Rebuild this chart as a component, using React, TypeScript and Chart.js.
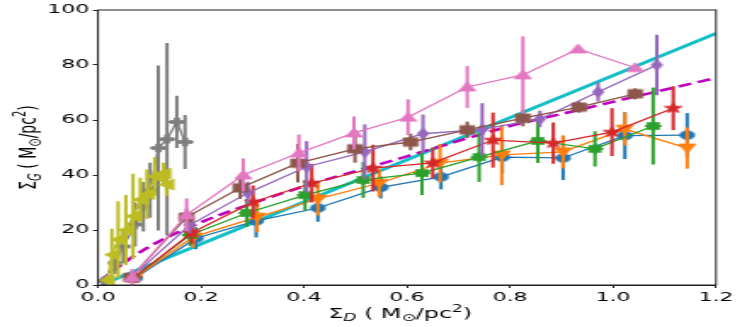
import React, { useEffect, useRef } from "react";
import { Chart, registerables } from "chart.js";
Chart.register(...registerables);

// canvas is drawn narrow and stretched horizontally (like the reference)
const W = 439;
const H = 327;
const SX = 747 / W;

// ---- tick labels ----
const xTicks = [0, 0.2, 0.4, 0.6, 0.8, 1.0, 1.2];
const yTicks = [0, 20, 40, 60, 80, 100];

// ---- series (Σ_D, Σ_G, error) ----
const blueX = [0.072, 0.19, 0.307, 0.427, 0.549, 0.666, 0.785, 0.903, 1.023, 1.144];
const blueY = [2.5, 17, 23.3, 28, 35.5, 39.3, 46.5, 46.2, 54.3, 54.5];
const blueErr = [1.5, 4, 6, 5, 4, 4.5, 6, 8, 8.5, 8];

const orangeX = [0.07, 0.185, 0.309, 0.427, 0.546, 0.664, 0.784, 0.903, 1.023, 1.144];
const orangeY = [2.5, 17.5, 24.7, 31.3, 37, 44.3, 47.3, 48.4, 56.7, 49.8];
const orangeErr = [1.5, 4, 5.5, 6, 5, 7, 11, 6, 6, 7.5];

const greenX = [0.068, 0.179, 0.289, 0.402, 0.515, 0.629, 0.74, 0.854, 0.965, 1.078];
const greenY = [2.5, 18.2, 26.2, 32.7, 38.2, 40.7, 46.5, 52.4, 49.5, 57.8];
const greenErr = [1.5, 4, 5, 5.5, 6.5, 8, 9, 8, 6.4, 14];

const redX = [0.068, 0.182, 0.301, 0.415, 0.534, 0.65, 0.767, 0.884, 0.998, 1.117];
const redY = [2.5, 19, 30.2, 37, 42.5, 44.4, 52.7, 51.6, 55.6, 64.3];
const redErr = [1.5, 4, 6, 7, 8.5, 5.6, 10, 7.5, 8.7, 8];

const purpleX = [0.066, 0.178, 0.291, 0.405, 0.518, 0.631, 0.746, 0.858, 0.971, 1.085];
const purpleY = [3, 21.8, 33.5, 43, 48.4, 55, 56.6, 60.4, 70.2, 80];
const purpleErr = [2, 3, 4, 9.3, 10, 7, 9.5, 3, 3.5, 11];

const brownX = [0.064, 0.172, 0.276, 0.388, 0.499, 0.607, 0.717, 0.825, 0.934, 1.043];
const brownY = [2.8, 24.7, 35.3, 44.3, 49.5, 52, 56.4, 60.7, 64.7, 69.5];
const brownErr = [1.5, 3, 4, 7, 5, 3, 3, 3, 2, 2];

const pinkX = [0.066, 0.172, 0.282, 0.39, 0.497, 0.602, 0.717, 0.825, 0.932, 1.043];
const pinkY = [2.8, 25.5, 40, 48, 55.3, 61, 72, 76.4, 85.8, 79];
const pinkErr = [3, 6, 6, 6.7, 6, 6.5, 7.6, 14, 1, 1];

const grayX = [0.012, 0.033, 0.049, 0.072, 0.088, 0.101, 0.117, 0.134, 0.153, 0.169];
const grayY = [1.5, 8, 14, 22, 28.5, 34.5, 49.8, 53, 59.3, 52];
const grayYErr = [1, 4, 6, 8, 9, 10, 30, 35, 9.5, 9.8];
const grayXErr = [0.005, 0.01, 0.012, 0.012, 0.012, 0.015, 0.015, 0.015, 0.016, 0.015];

const oliveX = [0.017, 0.027, 0.039, 0.054, 0.068, 0.082, 0.095, 0.11, 0.127, 0.133];
const oliveY = [1.8, 11, 16.5, 20, 25, 31, 33, 39.5, 40.5, 36.5];
const oliveYErr = [1.5, 9.5, 14, 12.7, 15.5, 8, 9, 7, 4, 4];
const oliveXErr = [0.006, 0.01, 0.01, 0.012, 0.012, 0.012, 0.012, 0.012, 0.01, 0.01];

// ---- fits ----
const cyanX = [0.008, 1.2];
const cyanY = [0.2, 91.5];
const magX = [0.005, 0.05, 0.1, 0.2, 0.3, 0.4, 0.5, 0.6, 0.7, 0.8, 0.9, 1.0, 1.1, 1.2];
const magY = [1.5, 8, 14, 22.8, 29.7, 35.9, 41.4, 46.8, 52.4, 57.8, 62.2, 66.6, 71, 75.3];

type Mk = "circle" | "vdown" | "star8" | "star5" | "thind" | "square" | "tri" | "plus" | "left";

function makeMarker(kind: Mk, color: string, size: number): HTMLCanvasElement {
  const s = Math.ceil(size) + 2;
  const c = document.createElement("canvas");
  c.width = s;
  c.height = s;
  const g = c.getContext("2d")!;
  g.translate(s / 2, s / 2);
  g.fillStyle = color;
  g.strokeStyle = color;
  g.lineWidth = 0.8;
  const r = size / 2;
  g.beginPath();
  const poly = (pts: number[][]) => {
    pts.forEach((p, i) => (i === 0 ? g.moveTo(p[0] * r, p[1] * r) : g.lineTo(p[0] * r, p[1] * r)));
    g.closePath();
  };
  const star = (n: number, inner: number) => {
    for (let i = 0; i < 2 * n; i++) {
      const a = -Math.PI / 2 + (i * Math.PI) / n;
      const rr = i % 2 === 0 ? r : r * inner;
      const px = Math.cos(a) * rr, py = Math.sin(a) * rr;
      i === 0 ? g.moveTo(px, py) : g.lineTo(px, py);
    }
    g.closePath();
  };
  switch (kind) {
    case "circle":
      g.arc(0, 0, r, 0, Math.PI * 2);
      break;
    case "square":
      g.rect(-r, -r, 2 * r, 2 * r);
      break;
    case "tri":
      poly([[0, -1], [1, 0.8], [-1, 0.8]]);
      break;
    case "vdown":
      poly([[0, 1], [1, -0.8], [-1, -0.8]]);
      break;
    case "left":
      poly([[-0.8, 0], [0.8, -1], [0.8, 1]]);
      break;
    case "thind":
      poly([[0, -1], [0.6, 0], [0, 1], [-0.6, 0]]);
      break;
    case "star5":
      star(5, 0.42);
      break;
    case "star8":
      star(8, 0.72);
      break;
    case "plus": {
      const t = 0.36;
      poly([[-t, -1], [t, -1], [t, -t], [1, -t], [1, t], [t, t], [t, 1], [-t, 1], [-t, t], [-1, t], [-1, -t], [-t, -t]]);
      break;
    }
  }
  g.fill();
  g.stroke();
  return c;
}

const series = [
  { x: blueX, y: blueY, ey: blueErr, ex: null as number[] | null, color: "#1f77b4", mk: "circle" as Mk, size: 8.5 },
  { x: orangeX, y: orangeY, ey: orangeErr, ex: null, color: "#ff7f0e", mk: "vdown" as Mk, size: 10 },
  { x: greenX, y: greenY, ey: greenErr, ex: null, color: "#2ca02c", mk: "star8" as Mk, size: 10 },
  { x: redX, y: redY, ey: redErr, ex: null, color: "#d62728", mk: "star5" as Mk, size: 11 },
  { x: purpleX, y: purpleY, ey: purpleErr, ex: null, color: "#9467bd", mk: "thind" as Mk, size: 11 },
  { x: brownX, y: brownY, ey: brownErr, ex: null, color: "#8c564b", mk: "square" as Mk, size: 8.5 },
  { x: pinkX, y: pinkY, ey: pinkErr, ex: null, color: "#e377c2", mk: "tri" as Mk, size: 10 },
  { x: grayX, y: grayY, ey: grayYErr, ex: grayXErr, color: "#7f7f7f", mk: "plus" as Mk, size: 8 },
  { x: oliveX, y: oliveY, ey: oliveYErr, ex: oliveXErr, color: "#bcbd22", mk: "left" as Mk, size: 11 },
];

const errorBarPlugin = {
  id: "errbars",
  beforeDatasetDraw(chart: any, args: any) {
    const ds = chart.data.datasets[args.index];
    if (!ds.errY && !ds.errX) return;
    const { ctx } = chart;
    const xs = chart.scales.x, ys = chart.scales.y;
    ctx.save();
    ctx.strokeStyle = ds.borderColor;
    ctx.lineWidth = 2;
    ds.data.forEach((p: any, i: number) => {
      const px = xs.getPixelForValue(p.x);
      const py = ys.getPixelForValue(p.y);
      ctx.beginPath();
      if (ds.errY) {
        ctx.moveTo(px, ys.getPixelForValue(p.y - ds.errY[i]));
        ctx.lineTo(px, ys.getPixelForValue(p.y + ds.errY[i]));
      }
      if (ds.errX) {
        ctx.moveTo(xs.getPixelForValue(p.x - ds.errX[i]), py);
        ctx.lineTo(xs.getPixelForValue(p.x + ds.errX[i]), py);
      }
      ctx.stroke();
    });
    ctx.restore();
  },
};

type Seg = { t: string; font: string; dy: number };
const FAM = "'DejaVu Sans', sans-serif";
function titleSegs(sub: string): Seg[] {
  return [
    { t: "Σ", font: `14px ${FAM}`, dy: 0 },
    { t: sub, font: `italic 10px ${FAM}`, dy: 3 },
    { t: " ( M", font: `14px ${FAM}`, dy: 0 },
    { t: "⊙", font: `10px ${FAM}`, dy: 3 },
    { t: "/pc", font: `14px ${FAM}`, dy: 0 },
    { t: "2", font: `10px ${FAM}`, dy: -6 },
    { t: ")", font: `14px ${FAM}`, dy: 0 },
  ];
}
function drawRich(ctx: CanvasRenderingContext2D, segs: Seg[], cx: number, by: number, rot: boolean) {
  ctx.save();
  ctx.translate(cx, by);
  if (rot) ctx.rotate(-Math.PI / 2);
  let total = 0;
  const ws = segs.map((s) => {
    ctx.font = s.font;
    const w = ctx.measureText(s.t).width;
    total += w;
    return w;
  });
  let xx = -total / 2;
  ctx.fillStyle = "#000";
  ctx.textBaseline = "alphabetic";
  segs.forEach((s, i) => {
    ctx.font = s.font;
    ctx.fillText(s.t, xx, s.dy);
    xx += ws[i];
  });
  ctx.restore();
}

const framePlugin = {
  id: "frame",
  afterDraw(chart: any) {
    const { ctx, chartArea: a } = chart;
    ctx.save();
    ctx.strokeStyle = "#222";
    ctx.lineWidth = 1;
    ctx.strokeRect(a.left, a.top, a.right - a.left, a.bottom - a.top);
    ctx.restore();
    const cxMid = (a.left + a.right) / 2 - 4;
    drawRich(ctx, titleSegs("D"), cxMid, 318, false);
    drawRich(ctx, titleSegs("G"), 21, (a.top + a.bottom) / 2, true);
  },
};

export default function App() {
  const ref = useRef<HTMLCanvasElement>(null);
  useEffect(() => {
    document.body.style.margin = "0";
    const datasets: any[] = series.map((s, i) => ({
      data: s.x.map((x, k) => ({ x, y: s.y[k] })),
      borderColor: s.color,
      backgroundColor: s.color,
      borderWidth: 1.3,
      pointStyle: makeMarker(s.mk, s.color, s.size),
      pointRadius: 5,
      showLine: true,
      errY: s.ey,
      errX: s.ex,
      order: -i,
    }));
    datasets.push({
      data: cyanX.map((x, k) => ({ x, y: cyanY[k] })),
      borderColor: "#12bfc6",
      borderWidth: 3,
      pointRadius: 0,
      showLine: true,
      order: 100,
    });
    datasets.push({
      data: magX.map((x, k) => ({ x, y: magY[k] })),
      borderColor: "#bf00bf",
      borderWidth: 2.6,
      borderDash: [8, 4],
      pointRadius: 0,
      showLine: true,
      cubicInterpolationMode: "monotone",
      order: 99,
    });
    const plotLeft = 98 / SX;
    const plotRight = 716 / SX;
    const chart = new Chart(ref.current!, {
      type: "line",
      data: { datasets },
      options: {
        animation: false,
        responsive: false,
        devicePixelRatio: 1,
        layout: { padding: { left: 0, right: W - plotRight, top: 10, bottom: 0 } },
        plugins: { legend: { display: false }, tooltip: { enabled: false } },
        scales: {
          x: {
            type: "linear",
            min: 0,
            max: 1.2,
            afterFit: (s: any) => {
              s.height = H - 285 - 0;
            },
            afterBuildTicks: (s: any) => {
              s.ticks = xTicks.map((v) => ({ value: v }));
            },
            ticks: {
              font: { family: FAM, size: 13 },
              color: "#000",
              padding: 2,
              maxRotation: 0,
              callback: (v: any) => Number(v).toFixed(1),
            },
            grid: { drawOnChartArea: false, drawTicks: true, tickLength: 3, color: "#222" },
            border: { display: true, color: "#222", width: 1 },
          },
          y: {
            type: "linear",
            min: 0,
            max: 100,
            afterFit: (s: any) => {
              s.width = plotLeft;
            },
            afterBuildTicks: (s: any) => {
              s.ticks = yTicks.map((v) => ({ value: v }));
            },
            ticks: {
              font: { family: FAM, size: 13 },
              color: "#000",
              padding: 2,
              callback: (v: any) => String(v),
            },
            grid: { drawOnChartArea: false, drawTicks: true, tickLength: 3, color: "#222" },
            border: { display: true, color: "#222", width: 1 },
          },
        },
      },
      plugins: [errorBarPlugin, framePlugin],
    });
    return () => chart.destroy();
  }, []);
  return (
    <div style={{ width: 747, height: 327, overflow: "hidden", position: "relative" }}>
      <div style={{ transform: `scaleX(${SX})`, transformOrigin: "0 0", width: W, height: H }}>
        <canvas ref={ref} width={W} height={H} style={{ display: "block" }} />
      </div>
    </div>
  );
}
